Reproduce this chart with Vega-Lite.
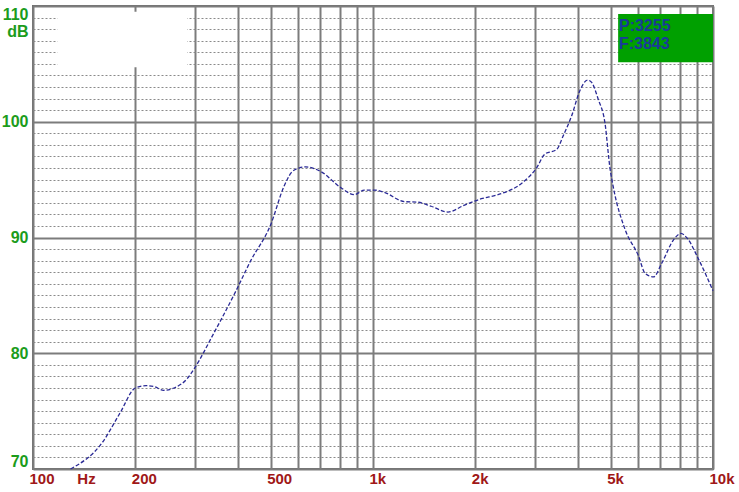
{
  "$schema": "https://vega.github.io/schema/vega-lite/v6.json",
  "width": 680,
  "height": 463,
  "autosize": "none",
  "padding": {"left": 33, "top": 6, "right": 26, "bottom": 23},
  "background": "white",
  "config": {
    "view": {"stroke": "#707070", "strokeWidth": 2},
    "axis": {"domain": false, "ticks": false, "title": null}
  },
  "resolve": {"axis": {"y": "independent"}},
  "layer": [
    {
      "data": {"values": [
        {"f": 129, "db": 70.0}, {"f": 160, "db": 72.3}, {"f": 180, "db": 74.8},
        {"f": 200, "db": 77.0}, {"f": 215, "db": 77.2}, {"f": 228, "db": 77.1},
        {"f": 242, "db": 76.8}, {"f": 260, "db": 77.0}, {"f": 284, "db": 77.8},
        {"f": 300, "db": 78.8}, {"f": 337, "db": 81.5}, {"f": 394, "db": 85.3},
        {"f": 437, "db": 88.0}, {"f": 500, "db": 91.1}, {"f": 547, "db": 94.4},
        {"f": 575, "db": 95.6}, {"f": 606, "db": 96.0}, {"f": 634, "db": 96.1},
        {"f": 702, "db": 95.7}, {"f": 805, "db": 94.3}, {"f": 881, "db": 93.7},
        {"f": 943, "db": 94.1}, {"f": 1009, "db": 94.1}, {"f": 1080, "db": 93.9},
        {"f": 1237, "db": 93.1}, {"f": 1355, "db": 93.05}, {"f": 1483, "db": 92.7},
        {"f": 1661, "db": 92.2}, {"f": 1859, "db": 92.8}, {"f": 2083, "db": 93.35},
        {"f": 2332, "db": 93.7}, {"f": 2795, "db": 94.9}, {"f": 3026, "db": 96.0},
        {"f": 3201, "db": 97.2}, {"f": 3467, "db": 97.6}, {"f": 3628, "db": 98.8},
        {"f": 3838, "db": 100.5}, {"f": 4061, "db": 102.7}, {"f": 4279, "db": 103.6},
        {"f": 4396, "db": 103.4}, {"f": 4601, "db": 101.9}, {"f": 4811, "db": 99.9},
        {"f": 4977, "db": 96.0}, {"f": 5095, "db": 94.3}, {"f": 5512, "db": 90.7},
        {"f": 6039, "db": 88.4}, {"f": 6314, "db": 86.9}, {"f": 6684, "db": 86.6},
        {"f": 7072, "db": 87.8}, {"f": 7656, "db": 89.8}, {"f": 8046, "db": 90.35},
        {"f": 8380, "db": 89.97}, {"f": 9077, "db": 88.1}, {"f": 10000, "db": 85.4}
      ]},
      "mark": {"type": "line", "color": "#2a2a96", "strokeWidth": 1.3, "strokeDash": [4, 2], "interpolate": "monotone"},
      "encoding": {
        "x": {
          "field": "f", "type": "quantitative",
          "scale": {"type": "log", "domain": [100, 10000], "nice": false},
          "axis": {
            "title": null,
            "values": [100, 200, 300, 400, 500, 600, 700, 800, 900, 1000, 2000, 3000, 4000, 5000, 6000, 7000, 8000, 9000, 10000],
            "grid": true, "gridColor": "#7c7c7c", "gridWidth": 2,
            "labelExpr": "datum.value == 100 ? '100' : datum.value == 200 ? '200' : datum.value == 500 ? '500' : datum.value == 1000 ? '1k' : datum.value == 2000 ? '2k' : datum.value == 5000 ? '5k' : datum.value == 10000 ? '10k' : ''",
            "labelAlign": "left", "labelOffset": -4, "labelBaseline": "top", "labelPadding": 2,
            "labelFont": "Liberation Sans", "labelFontWeight": "bold", "labelFontSize": 15,
            "labelColor": "#a01818", "labelFlush": false, "labelOverlap": false
          }
        },
        "y": {
          "field": "db", "type": "quantitative",
          "scale": {"domain": [70, 110], "nice": false, "zero": false},
          "axis": {
            "orient": "left", "title": null,
            "values": [71, 72, 73, 74, 75, 76, 77, 78, 79, 81, 82, 83, 84, 85, 86, 87, 88, 89, 91, 92, 93, 94, 95, 96, 97, 98, 99, 101, 102, 103, 104, 105, 106, 107, 108, 109],
            "grid": true, "gridColor": "#8a8a8a", "gridWidth": 1, "gridDash": [2, 2],
            "labels": false
          }
        }
      }
    },
    {
      "data": {"values": [{"f": 118, "f2": 284, "db": 104.7, "db2": 109.5}]},
      "mark": {"type": "rect", "fill": "white", "strokeWidth": 0},
      "encoding": {
        "x": {"field": "f", "type": "quantitative", "title": null},
        "x2": {"field": "f2"},
        "y": {
          "field": "db", "type": "quantitative",
          "axis": {
            "orient": "left", "title": null,
            "values": [70, 80, 90, 100, 110],
            "grid": true, "gridColor": "#7c7c7c", "gridWidth": 2,
            "labelExpr": "datum.value == 110 ? ['110', 'dB'] : datum.label",
            "labelFlush": true, "labelFlushOffset": 0, "labelLineHeight": 17,
            "labelPadding": 5, "labelAlign": "right",
            "labelFont": "Liberation Sans", "labelFontWeight": "bold", "labelFontSize": 16,
            "labelColor": "#1c9c1c"
          }
        },
        "y2": {"field": "db2"}
      }
    },
    {
      "data": {"values": [{"f": 5260, "f2": 10000, "db": 105.15, "db2": 109.3}]},
      "mark": {"type": "rect", "fill": "#00a000", "strokeWidth": 0},
      "encoding": {
        "x": {"field": "f", "type": "quantitative", "title": null},
        "x2": {"field": "f2"},
        "y": {"field": "db", "type": "quantitative", "axis": null},
        "y2": {"field": "db2"}
      }
    },
    {
      "data": {"values": [
        {"f": 5290, "db": 108.3, "label": "P:3255"},
        {"f": 5290, "db": 106.75, "label": "F:3843"}
      ]},
      "mark": {"type": "text", "align": "left", "baseline": "middle", "font": "Liberation Sans", "fontWeight": "bold", "fontSize": 16, "color": "#1a3a9a"},
      "encoding": {
        "x": {"field": "f", "type": "quantitative", "title": null},
        "y": {"field": "db", "type": "quantitative", "axis": null},
        "text": {"field": "label"}
      }
    },
    {
      "data": {"values": [{"f": 135, "db": 70, "label": "Hz"}]},
      "mark": {"type": "text", "align": "left", "baseline": "top", "dy": 3, "font": "Liberation Sans", "fontWeight": "bold", "fontSize": 15, "color": "#a01818"},
      "encoding": {
        "x": {"field": "f", "type": "quantitative", "title": null},
        "y": {"field": "db", "type": "quantitative", "axis": null},
        "text": {"field": "label"}
      }
    }
  ]
}
